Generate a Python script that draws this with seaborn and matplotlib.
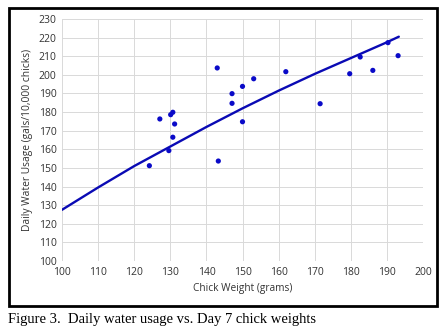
import numpy as np
import pandas as pd
import matplotlib
matplotlib.use("Agg")
import matplotlib.pyplot as plt
from matplotlib.patches import Rectangle
import seaborn as sns

# Day 7 chick weight (grams) and daily water usage (gals/10,000 chicks)
chick_weight = [124.2, 127.1, 129.6, 130.1, 130.7, 130.7, 131.2, 143.0, 143.3,
                147.1, 147.1, 150.0, 150.0, 153.1, 162.0, 171.5, 179.7, 182.6,
                186.1, 190.3, 193.1]
water_usage = [151.2, 176.3, 159.3, 178.6, 179.9, 166.5, 173.6, 203.7, 153.7,
               189.9, 184.7, 193.8, 174.8, 197.9, 201.7, 184.5, 200.6, 209.6,
               202.4, 217.3, 210.3]

# trend curve for water usage vs. weight
trend_weight = [100, 110, 120, 130, 140, 150, 160, 170, 180, 190, 193.3]
trend_water = [127.5, 139.5, 151.0, 161.5, 172.0, 182.0, 191.5, 200.5, 209.0,
               217.5, 220.5]

x_ticks = list(range(100, 201, 10))
y_ticks = list(range(100, 231, 10))

df = pd.DataFrame({"weight": chick_weight, "water": water_usage})
trend = pd.DataFrame({"weight": trend_weight, "water": trend_water})

sns.set_theme(style="white")
plt.rcParams["font.family"] = ["Open Sans", "DejaVu Sans"]

fig = plt.figure(figsize=(4.48, 3.29), dpi=100)
ax = fig.add_axes([62 / 448, 1 - 261 / 329, (423 - 62) / 448, (261 - 19) / 329])

sns.lineplot(data=trend, x="weight", y="water", ax=ax, color="#0a0ab4",
             linewidth=1.7, zorder=3)
sns.scatterplot(data=df, x="weight", y="water", ax=ax, color="#0a0ac8",
                s=14, edgecolor="none", zorder=4)

ax.set_xlim(100, 200)
ax.set_ylim(100, 230)
ax.set_xticks(x_ticks)
ax.set_yticks(y_ticks)
ax.tick_params(axis="both", labelsize=7.5, length=0, pad=4, colors="#333333")
ax.grid(True, color="#d9d9d9", linewidth=0.7)
ax.set_axisbelow(True)
for sp in ax.spines.values():
    sp.set_visible(False)
ax.set_xlabel("Chick Weight (grams)", fontsize=7.3, color="#333333", labelpad=4)
ax.set_ylabel("Daily Water Usage (gals/10,000 chicks)", fontsize=7.4,
              color="#333333", labelpad=4)

# frame around the chart
fig.patches.append(Rectangle((8.5 / 448, 1 - 306 / 329), (437 - 8.5) / 448,
                             (306 - 7.5) / 329, transform=fig.transFigure,
                             fill=False, edgecolor="black", linewidth=2.0))

fig.text(8 / 448, 1 - 323 / 329, "Figure 3.  Daily water usage vs. Day 7 chick weights",
         fontsize=10.5, family="Liberation Serif", color="black", va="baseline")

fig.savefig("out.png", dpi=100, facecolor="white")
